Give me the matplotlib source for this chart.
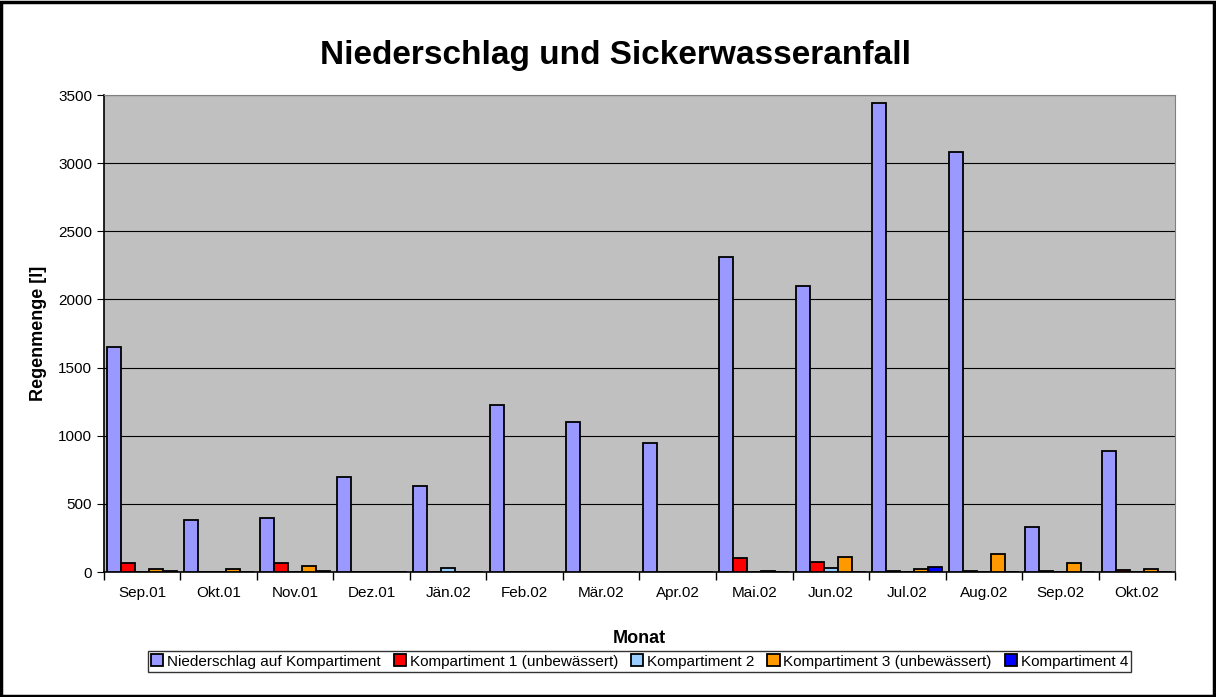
import numpy as np
import matplotlib.pyplot as plt
from matplotlib.patches import Rectangle

plt.rcParams['font.family'] = ['Liberation Sans', 'DejaVu Sans']

monate = ['Sep.01', 'Okt.01', 'Nov.01', 'Dez.01', 'Jän.02', 'Feb.02', 'Mär.02',
          'Apr.02', 'Mai.02', 'Jun.02', 'Jul.02', 'Aug.02', 'Sep.02', 'Okt.02']
niederschlag = [1650, 380, 400, 700, 630, 1225, 1100, 950, 2310, 2100, 3440, 3080, 330, 890]
komp1 = [65, 2, 65, 0, 0, 0, 0, 0, 100, 75, 5, 5, 10, 15]
komp2 = [0, 0, 0, 0, 30, 0, 0, 0, 0, 30, 0, 0, 0, 0]
komp3 = [25, 20, 45, 0, 0, 0, 0, 0, 5, 110, 25, 130, 65, 25]
komp4 = [5, 0, 5, 0, 0, 0, 0, 0, 0, 0, 35, 0, 0, 0]

series = [
    ('Niederschlag auf Kompartiment', niederschlag, '#9999FF'),
    ('Kompartiment 1 (unbewässert)', komp1, '#FF0000'),
    ('Kompartiment 2', komp2, '#99CCFF'),
    ('Kompartiment 3 (unbewässert)', komp3, '#FF9900'),
    ('Kompartiment 4', komp4, '#0000FF'),
]

fig = plt.figure(figsize=(12.16, 6.97), dpi=100)
fig.patches.append(Rectangle((0.001, 0.002), 0.997, 0.995, transform=fig.transFigure,
                             fill=False, edgecolor='black', linewidth=2.5))
ax = fig.add_axes([0.0855, 0.1793, 0.8808, 0.6844])
ax.set_facecolor('#C0C0C0')

x = np.arange(len(monate))
w = 0.183
handles = []
for i, (name, vals, col) in enumerate(series):
    h = ax.bar(x - 2 * w + i * w, vals, width=w, color=col, edgecolor='black',
               linewidth=1.3, label=name, zorder=3)
    handles.append(h)

ax.set_xlim(-0.5, len(monate) - 0.5)
ax.set_ylim(0, 3500)
ax.set_yticks(np.arange(0, 3501, 500))
ax.yaxis.grid(True, color='black', linewidth=0.8, zorder=1)
ax.set_xticks(x)
ax.set_xticklabels(monate, fontsize=11)
ax.set_xticks(np.arange(-0.5, len(monate), 1), minor=True)
ax.tick_params(axis='x', which='major', length=0, pad=10)
ax.tick_params(axis='x', which='minor', length=6, width=1)
ax.tick_params(axis='y', labelsize=11, length=5)

for s in ['top', 'right']:
    ax.spines[s].set_color('#808080')
for s in ['left', 'bottom']:
    ax.spines[s].set_color('black')
    ax.spines[s].set_linewidth(1.2)

fig.text(0.506, 0.921, 'Niederschlag und Sickerwasseranfall', fontsize=24,
         fontweight='bold', ha='center', va='center')
ax.set_ylabel('Regenmenge [l]', fontsize=13, fontweight='bold', labelpad=8)
ax.set_xlabel('Monat', fontsize=13, fontweight='bold', labelpad=22)

leg = fig.legend(handles=handles, loc='center', bbox_to_anchor=(0.526, 0.051), ncol=5,
                 fontsize=11, frameon=True, fancybox=False, edgecolor='black',
                 handlelength=0.8, handleheight=0.8, handletextpad=0.25,
                 columnspacing=0.85, borderpad=0.2)
leg.get_frame().set_linewidth(1.0)

fig.savefig('out.png', dpi=100)
